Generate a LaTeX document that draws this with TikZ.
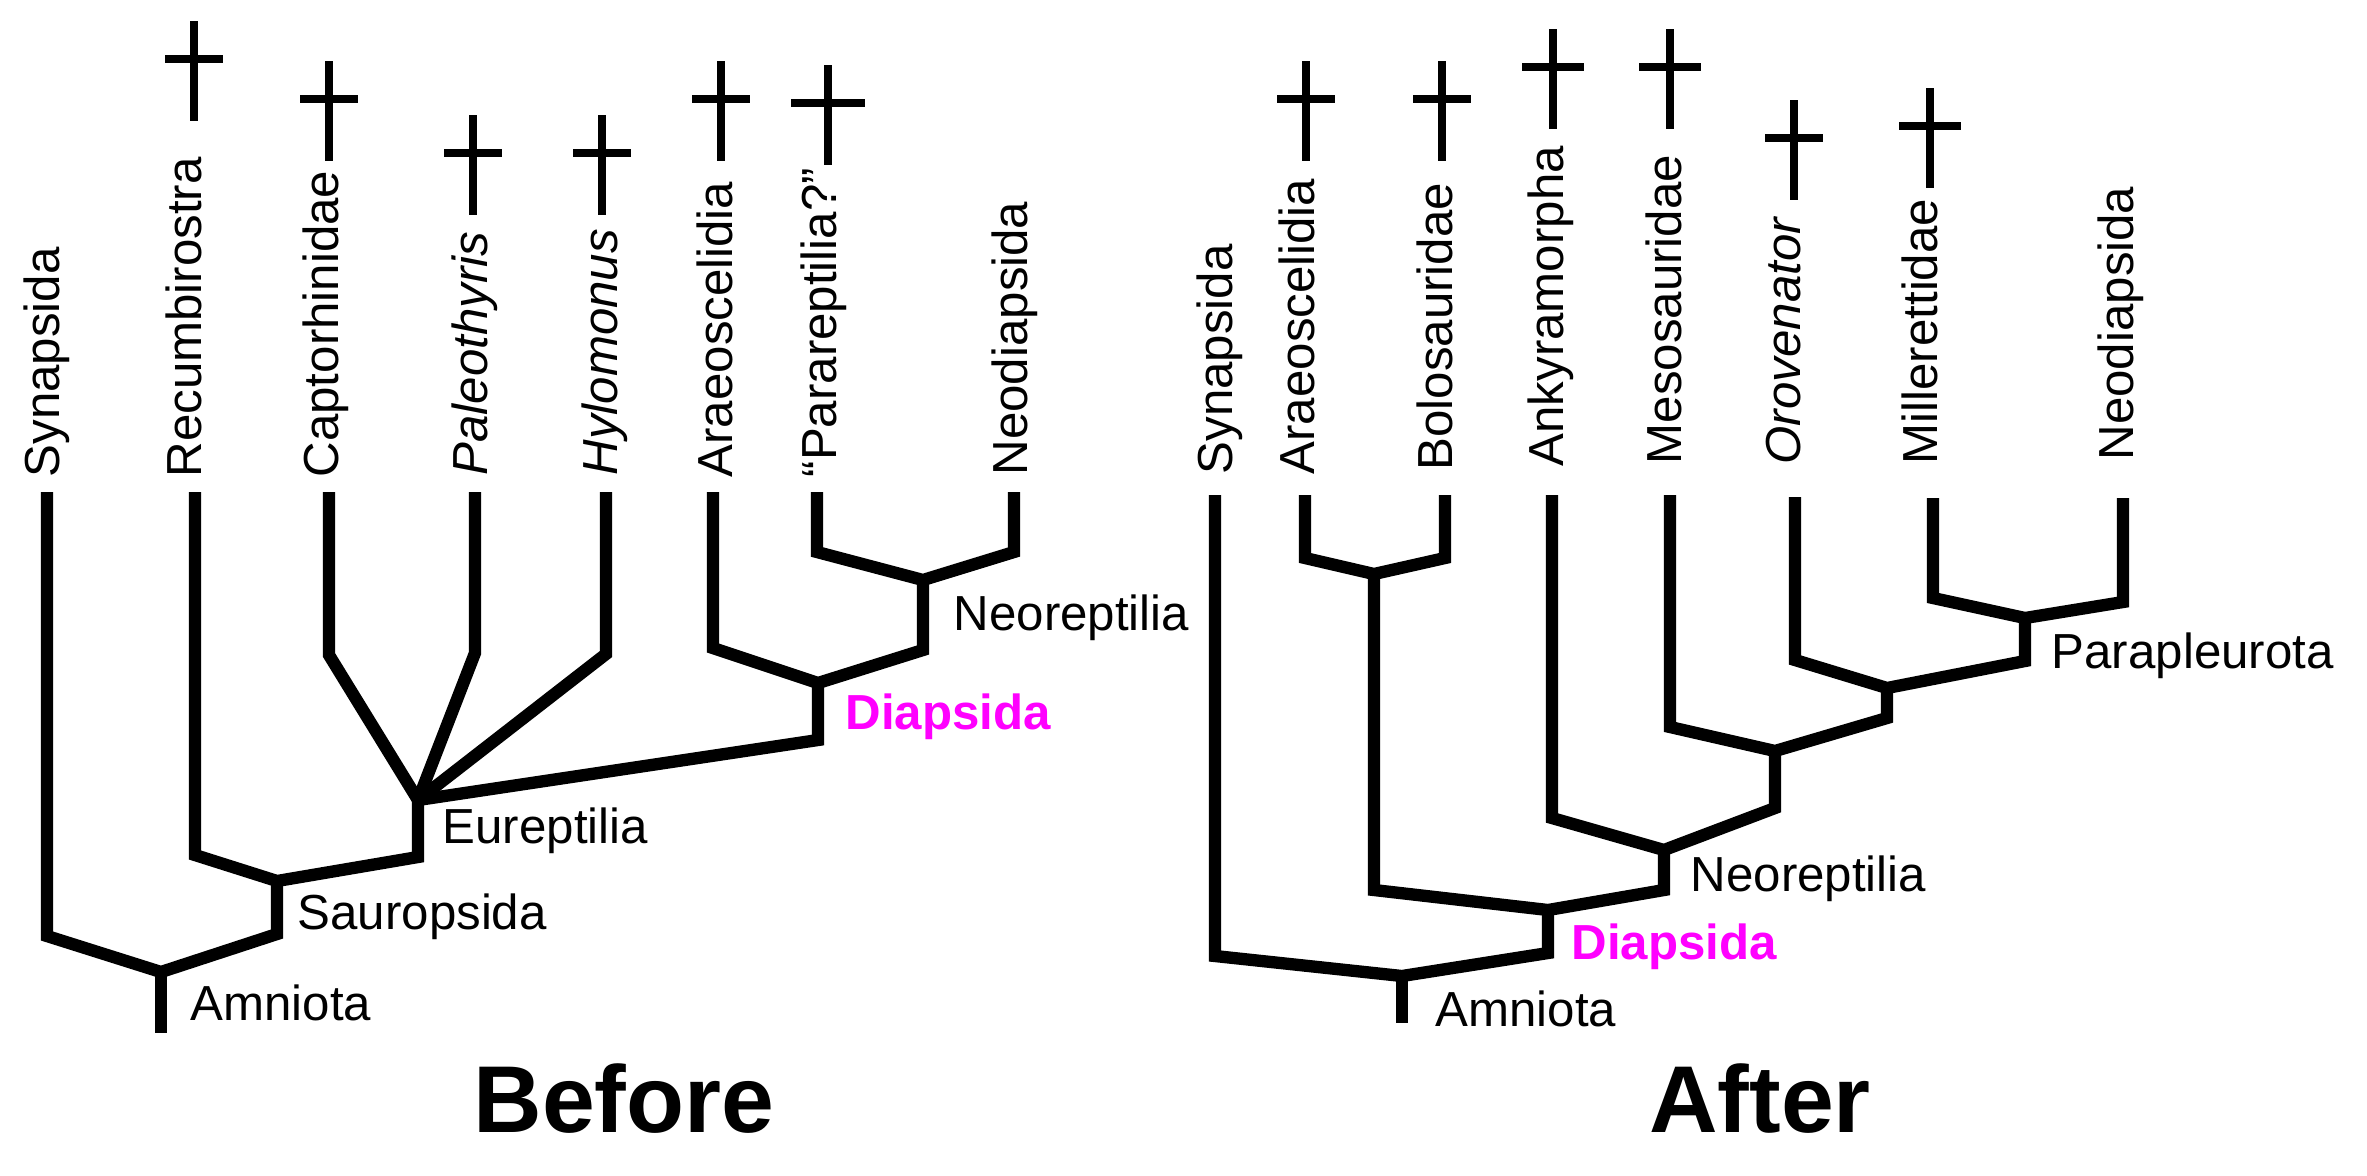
\documentclass[tikz,border=0pt]{standalone}
\usepackage{fontspec}
\setmainfont{Liberation Sans}
\definecolor{diamagenta}{RGB}{255,0,255}
\tikzset{
  branch/.style={black, line width=3.5pt, line join=miter},
  crux/.style={black, line width=2.4pt},
  taxon/.style={rotate=90, anchor=base west, inner sep=0pt, font=\fontsize{14}{16}\selectfont},
  clade/.style={anchor=base west, inner sep=0pt, font=\fontsize{14}{16}\selectfont},
  panel/.style={anchor=base, inner sep=0pt, font=\bfseries\fontsize{27}{30}\selectfont}
}

\begin{document}
\begin{tikzpicture}[x=0.01cm, y=0.01cm]
\useasboundingbox (0,0) rectangle (2367,-1175);

% Before
\coordinate (syn1) at (47,-492);
\coordinate (syn1c) at (47,-936);
\coordinate (amn1) at (161,-972);
\coordinate (amn1r) at (161,-1033);
\coordinate (sau) at (277,-881);
\coordinate (sauc) at (277,-934);
\coordinate (rec) at (195,-492);
\coordinate (recc) at (195,-855);
\coordinate (eur) at (418,-800);
\coordinate (eurc) at (418,-857);
\coordinate (cap) at (329,-492);
\coordinate (capc) at (329,-655);
\coordinate (pal) at (475,-492);
\coordinate (palc) at (475,-653);
\coordinate (hyl) at (606,-492);
\coordinate (hylc) at (606,-654);
\coordinate (dia1) at (818,-683);
\coordinate (dia1c) at (818,-740);
\coordinate (ara1) at (713,-492);
\coordinate (ara1c) at (713,-648);
\coordinate (nrp1) at (923,-580);
\coordinate (nrp1c) at (923,-650);
\coordinate (par) at (817,-492);
\coordinate (parc) at (817,-552);
\coordinate (neo1) at (1014,-492);
\coordinate (neo1c) at (1014,-552);

\draw [branch] (syn1) -- (syn1c) -- (amn1) -- (sauc) -- (sau);
\draw [branch] (amn1) -- (amn1r);
\draw [branch] (rec) -- (recc) -- (sau) -- (eurc) -- (eur);
\draw [branch] (cap) -- (capc) -- (eur) -- (dia1c) -- (dia1);
\draw [branch] (pal) -- (palc) -- (eur);
\draw [branch] (hyl) -- (hylc) -- (eur);
\draw [branch] (ara1) -- (ara1c) -- (dia1) -- (nrp1c) -- (nrp1);
\draw [branch] (par) -- (parc) -- (nrp1) -- (neo1c) -- (neo1);

\node [taxon] (syn1-l) at (59,-478) {Synapsida};
\node [taxon] (rec-l) at (201,-478) {Recumbirostra};
\node [taxon] (cap-l) at (338,-478) {Captorhinidae};
\node [taxon] (pal-l) at (487,-476) {\itshape Paleothyris};
\node [taxon] (hyl-l) at (617,-476) {\itshape Hylomonus};
\node [taxon] (ara1-l) at (732,-478) {Araeoscelidia};
\node [taxon] (par-l) at (836,-478) {“Parareptilia?”};
\node [taxon] (neo1-l) at (1027,-476) {Neodiapsida};

\node [clade] (amn1-l) at (190,-1020) {Amniota};
\node [clade] (sau-l) at (297,-929) {Sauropsida};
\node [clade] (eur-l) at (442,-843) {Eureptilia};
\node [clade, text=diamagenta, font=\bfseries\fontsize{14}{16}\selectfont] (dia1-l) at (845,-729) {Diapsida};
\node [clade] (nrp1-l) at (953,-630) {Neoreptilia};

% After
\coordinate (syn2) at (1215,-495);
\coordinate (syn2c) at (1215,-956);
\coordinate (amn2) at (1402,-976);
\coordinate (amn2r) at (1402,-1023);
\coordinate (dia2) at (1548,-910);
\coordinate (dia2c) at (1548,-953);
\coordinate (abx) at (1374,-574);
\coordinate (abxc) at (1374,-890);
\coordinate (ara2) at (1305,-495);
\coordinate (ara2c) at (1305,-558);
\coordinate (bol) at (1445,-495);
\coordinate (bolc) at (1445,-558);
\coordinate (nrp2) at (1664,-850);
\coordinate (nrp2c) at (1664,-890);
\coordinate (ank) at (1552,-495);
\coordinate (ankc) at (1552,-818);
\coordinate (n3) at (1775,-751);
\coordinate (n3c) at (1775,-808);
\coordinate (mes) at (1670,-495);
\coordinate (mesc) at (1670,-727);
\coordinate (n4) at (1887,-688);
\coordinate (n4c) at (1887,-718);
\coordinate (oro) at (1795,-497);
\coordinate (oroc) at (1795,-660);
\coordinate (ppl) at (2025,-618);
\coordinate (pplc) at (2025,-661);
\coordinate (mil) at (1933,-498);
\coordinate (milc) at (1933,-598);
\coordinate (neo2) at (2123,-498);
\coordinate (neo2c) at (2123,-602);

\draw [branch] (syn2) -- (syn2c) -- (amn2) -- (dia2c) -- (dia2);
\draw [branch] (amn2) -- (amn2r);
\draw [branch] (ara2) -- (ara2c) -- (abx) -- (bolc) -- (bol);
\draw [branch] (abx) -- (abxc) -- (dia2) -- (nrp2c) -- (nrp2);
\draw [branch] (ank) -- (ankc) -- (nrp2) -- (n3c) -- (n3);
\draw [branch] (mes) -- (mesc) -- (n3) -- (n4c) -- (n4);
\draw [branch] (oro) -- (oroc) -- (n4) -- (pplc) -- (ppl);
\draw [branch] (mil) -- (milc) -- (ppl) -- (neo2c) -- (neo2);

\node [taxon] (syn2-l) at (1232,-475) {Synapsida};
\node [taxon] (ara2-l) at (1314,-475) {Araeoscelidia};
\node [taxon] (bol-l) at (1452,-471) {Bolosauridae};
\node [taxon] (ank-l) at (1563,-467) {Ankyramorpha};
\node [taxon] (mes-l) at (1681,-465) {Mesosauridae};
\node [taxon] (oro-l) at (1800,-465) {\itshape Orovenator};
\node [taxon] (mil-l) at (1937,-465) {Millerettidae};
\node [taxon] (neo2-l) at (2133,-461) {Neodiapsida};

\node [clade] (amn2-l) at (1435,-1026) {Amniota};
\node [clade, text=diamagenta, font=\bfseries\fontsize{14}{16}\selectfont] (dia2-l) at (1571,-959) {Diapsida};
\node [clade] (nrp2-l) at (1690,-891) {Neoreptilia};
\node [clade] (ppl-l) at (2051,-668) {Parapleurota};

% extinct taxa
\foreach \x/\y/\w in {194/21/29, 329/61/29, 473/115/29, 602/115/29, 721/61/29, 828/65/37,
    1306/61/29, 1442/61/29, 1553/29/31, 1670/29/31, 1794/100/29, 1930/88/31}{
  \draw [crux] (\x,-\y) -- ++(0,-100);
  \draw [crux] (\x-\w,-\y-38) -- ++(2*\w,0);
}

\node [panel] (before) at (624,-1132) {Before};
\node [panel] (after) at (1760,-1132) {After};

\end{tikzpicture}
\end{document}
